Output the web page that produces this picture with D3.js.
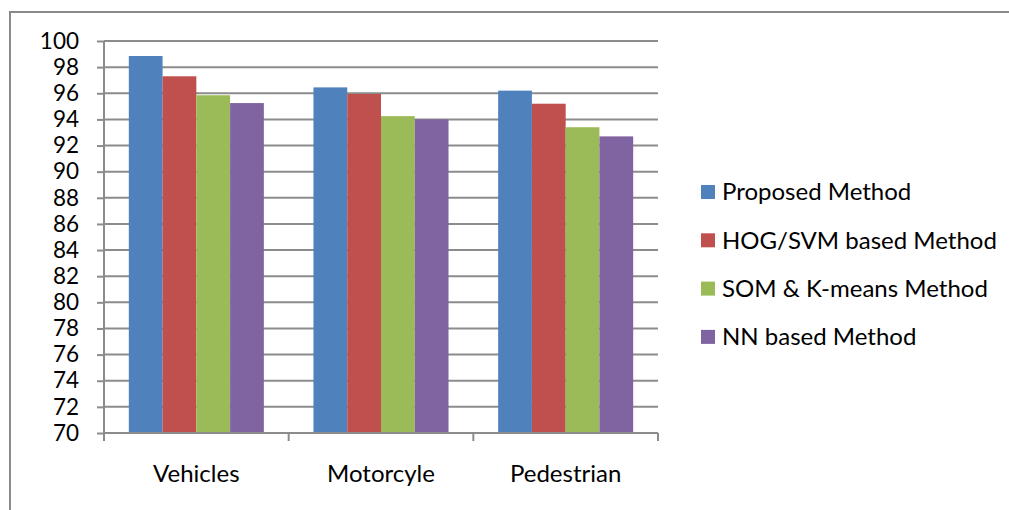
<!DOCTYPE html>
<html>
<head>
<meta charset="utf-8">
<script src="https://cdn.jsdelivr.net/npm/d3@7"></script>
<style>
  html, body { margin: 0; padding: 0; background: #fff; }
  svg { display: block; font-family: Lato, "Open Sans", sans-serif; }
</style>
</head>
<body>
<svg id="chart" width="1009" height="510"></svg>
<script>
// Detection accuracy (%) per object class and method
const categories = ["Vehicles", "Motorcyle", "Pedestrian"];
const seriesNames = ["Proposed Method", "HOG/SVM based Method", "SOM & K-means Method", "NN based Method"];
const proposed = [98.85, 96.45, 96.2];
const hogSvm   = [97.3, 95.95, 95.2];
const somKmeans = [95.85, 94.25, 93.4];
const nnBased  = [95.25, 94.0, 92.7];
const yTicks = [70, 72, 74, 76, 78, 80, 82, 84, 86, 88, 90, 92, 94, 96, 98, 100];
const colors = ["#4F81BD", "#C0504D", "#9BBB59", "#8064A2"];

const seriesValues = [proposed, hogSvm, somKmeans, nnBased];

const svg = d3.select("#chart");
const plot = { left: 104, right: 658, top: 41, bottom: 433 };

// outer chart frame (runs off the right and bottom edges)
svg.append("path")
  .attr("d", "M10,520 L10,12 L1020,12")
  .attr("fill", "none")
  .attr("stroke", "#8a8a8a")
  .attr("stroke-width", 2);

const y = d3.scaleLinear().domain([70, 100]).range([plot.bottom, plot.top]);
const x0 = d3.scaleBand().domain(categories).range([plot.left, plot.right]).paddingInner(0).paddingOuter(0);
const groupFrac = 4 / (4 + 1.47);
const x1 = d3.scaleBand().domain(d3.range(4))
  .range([0, x0.bandwidth() * groupFrac]);

// gridlines
svg.append("g")
  .selectAll("line")
  .data(yTicks.filter(t => t !== 70))
  .join("line")
  .attr("x1", plot.left).attr("x2", plot.right)
  .attr("y1", d => y(d)).attr("y2", d => y(d))
  .attr("stroke", "#8c8c8c")
  .attr("stroke-width", 2);

// bars
const groupOffset = (x0.bandwidth() - x0.bandwidth() * groupFrac) / 2;
const groups = svg.append("g")
  .selectAll("g")
  .data(categories)
  .join("g")
  .attr("transform", d => `translate(${x0(d) + groupOffset},0)`);

groups.selectAll("rect")
  .data((d, ci) => seriesValues.map((vals, si) => ({ si, v: vals[ci] })))
  .join("rect")
  .attr("x", d => x1(d.si))
  .attr("width", x1.bandwidth())
  .attr("y", d => y(d.v))
  .attr("height", d => y(70) - y(d.v))
  .attr("fill", d => colors[d.si]);

// y axis
const yAxis = svg.append("g")
  .attr("transform", `translate(${plot.left},0)`)
  .call(d3.axisLeft(y).tickValues(yTicks).tickSize(7).tickPadding(18).tickFormat(d3.format("d")));
yAxis.select(".domain").attr("stroke", "#8c8c8c").attr("stroke-width", 2).attr("d", `M0,${plot.top}V${plot.bottom}`);
yAxis.selectAll(".tick line").attr("stroke", "#8c8c8c").attr("stroke-width", 2);
yAxis.selectAll(".tick text")
  .attr("font-size", 22.5)
  .attr("fill", "#000")
  .attr("font-family", "Lato, sans-serif");

// x axis
const xAxis = svg.append("g")
  .attr("transform", `translate(0,${plot.bottom})`)
  .call(d3.axisBottom(x0).tickSize(0).tickPadding(32));
xAxis.select(".domain").attr("stroke", "#8c8c8c").attr("stroke-width", 2).attr("d", `M${plot.left},0H${plot.right}`);
xAxis.selectAll(".tick text")
  .attr("font-size", 24)
  .attr("fill", "#000")
  .attr("font-family", "Lato, sans-serif");
// category boundary ticks
xAxis.append("g")
  .selectAll("line")
  .data([plot.left, ...categories.map(c => x0(c) + x0.bandwidth())])
  .join("line")
  .attr("x1", d => d).attr("x2", d => d)
  .attr("y1", 0).attr("y2", 8)
  .attr("stroke", "#8c8c8c")
  .attr("stroke-width", 2);

// legend
const legend = svg.append("g").attr("transform", "translate(701,192)");
const items = legend.selectAll("g")
  .data(seriesNames)
  .join("g")
  .attr("transform", (d, i) => `translate(0,${i * 48.3})`);
items.append("rect")
  .attr("x", 0).attr("y", -7)
  .attr("width", 14).attr("height", 14)
  .attr("fill", (d, i) => colors[i]);
items.append("text")
  .attr("x", 21)
  .attr("dy", "0.35em")
  .attr("font-size", 24)
  .attr("fill", "#000")
  .text(d => d);
</script>
</body>
</html>
